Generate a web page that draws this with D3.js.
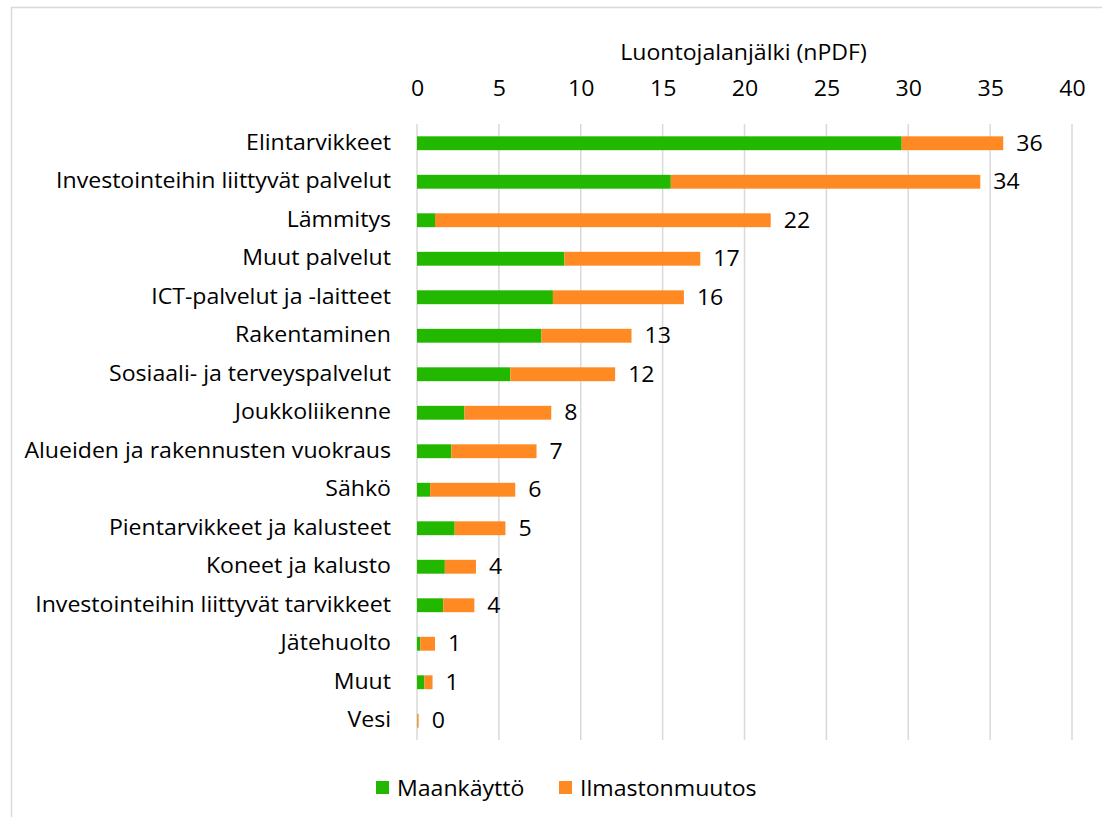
<!DOCTYPE html>
<html>
<head>
<meta charset="utf-8">
<script src="https://cdn.jsdelivr.net/npm/d3@7"></script>
<style>
  body { margin: 0; background: #fff; }
  svg { display: block; font-family: "Open Sans", "Noto Sans", sans-serif; }
</style>
</head>
<body>
<svg id="chart"></svg>
<script>
const categories = [
  "Elintarvikkeet",
  "Investointeihin liittyvät palvelut",
  "Lämmitys",
  "Muut palvelut",
  "ICT-palvelut ja -laitteet",
  "Rakentaminen",
  "Sosiaali- ja terveyspalvelut",
  "Joukkoliikenne",
  "Alueiden ja rakennusten vuokraus",
  "Sähkö",
  "Pientarvikkeet ja kalusteet",
  "Koneet ja kalusto",
  "Investointeihin liittyvät tarvikkeet",
  "Jätehuolto",
  "Muut",
  "Vesi"
];
const maankaytto = [29.6, 15.5, 1.1, 9.0, 8.3, 7.6, 5.7, 2.9, 2.1, 0.8, 2.3, 1.7, 1.6, 0.2, 0.45, 0.02];
const ilmastonmuutos = [6.2, 18.9, 20.5, 8.3, 8.0, 5.5, 6.4, 5.3, 5.2, 5.2, 3.1, 1.9, 1.9, 0.9, 0.5, 0.08];
const totalLabels = ["36", "34", "22", "17", "16", "13", "12", "8", "7", "6", "5", "4", "4", "1", "1", "0"];
const xTicks = [0, 5, 10, 15, 20, 25, 30, 35, 40];
const seriesNames = ["Maankäyttö", "Ilmastonmuutos"];
const colors = ["#22b800", "#ff8a24"];

const width = 1102, height = 817;
const fontSize = 21;
const stretch = "scale(1.1,1)"; // source text is a bit wider than Open Sans
const svg = d3.select("#chart").attr("width", width).attr("height", height);

// chart border
svg.append("rect")
  .attr("x", 11.5).attr("y", 7.5)
  .attr("width", 1100).attr("height", 830)
  .attr("fill", "none").attr("stroke", "#d9d9d9").attr("stroke-width", 1.5);

const x = d3.scaleLinear().domain([0, 40]).range([417, 1072]);
const y = d3.scaleBand().domain(categories).range([124, 740]).paddingInner(0.64).paddingOuter(0.32);

// gridlines
svg.append("g")
  .selectAll("line")
  .data(xTicks)
  .join("line")
  .attr("x1", d => x(d)).attr("x2", d => x(d))
  .attr("y1", 124).attr("y2", 740)
  .attr("stroke", "#d9d9d9").attr("stroke-width", 1.5);

// top axis
const xAxis = svg.append("g")
  .attr("transform", "translate(0,96)")
  .call(d3.axisTop(x).tickValues(xTicks).tickSize(0).tickPadding(0))
  .attr("font-family", null).attr("font-size", fontSize);
xAxis.select(".domain").remove();
xAxis.selectAll("text")
  .attr("fill", "#000")
  .attr("transform", stretch);

svg.append("text")
  .attr("transform", `translate(${(x(0) + x(40)) / 2 - 1},60) ${stretch}`)
  .attr("text-anchor", "middle")
  .attr("font-size", fontSize).attr("fill", "#000")
  .text("Luontojalanjälki (nPDF)");

// stacked bars
const rows = categories.map((c, i) => ({ cat: c, v: [maankaytto[i], ilmastonmuutos[i]] }));
const stack = d3.stack().keys([0, 1]).value((d, k) => d.v[k])(rows);

svg.append("g")
  .selectAll("g")
  .data(stack)
  .join("g")
  .attr("fill", (d, i) => colors[i])
  .selectAll("rect")
  .data(d => d)
  .join("rect")
  .attr("x", d => x(d[0]))
  .attr("y", d => y(d.data.cat))
  .attr("width", d => x(d[1]) - x(d[0]))
  .attr("height", y.bandwidth());

// value labels
svg.append("g")
  .selectAll("text")
  .data(rows)
  .join("text")
  .attr("transform", d => `translate(${x(d.v[0] + d.v[1]) + 13},${y(d.cat) + y.bandwidth() / 2}) ${stretch}`)
  .attr("dy", "0.36em")
  .attr("font-size", fontSize).attr("fill", "#000")
  .text((d, i) => totalLabels[i]);

// category labels
const yAxis = svg.append("g")
  .attr("transform", "translate(391,0)")
  .call(d3.axisLeft(y).tickSize(0).tickPadding(0))
  .attr("font-family", null).attr("font-size", fontSize);
yAxis.select(".domain").remove();
yAxis.selectAll("text")
  .attr("fill", "#000")
  .attr("transform", stretch);

// legend
const legendX = [376, 559];
const legend = svg.append("g")
  .selectAll("g")
  .data(seriesNames)
  .join("g")
  .attr("transform", (d, i) => `translate(${legendX[i]},788)`);
legend.append("rect")
  .attr("x", 0).attr("y", -7)
  .attr("width", 13).attr("height", 13)
  .attr("fill", (d, i) => colors[i]);
legend.append("text")
  .attr("transform", `translate(21,0) ${stretch}`)
  .attr("dy", "0.36em")
  .attr("font-size", fontSize).attr("fill", "#000")
  .text(d => d);
</script>
</body>
</html>
